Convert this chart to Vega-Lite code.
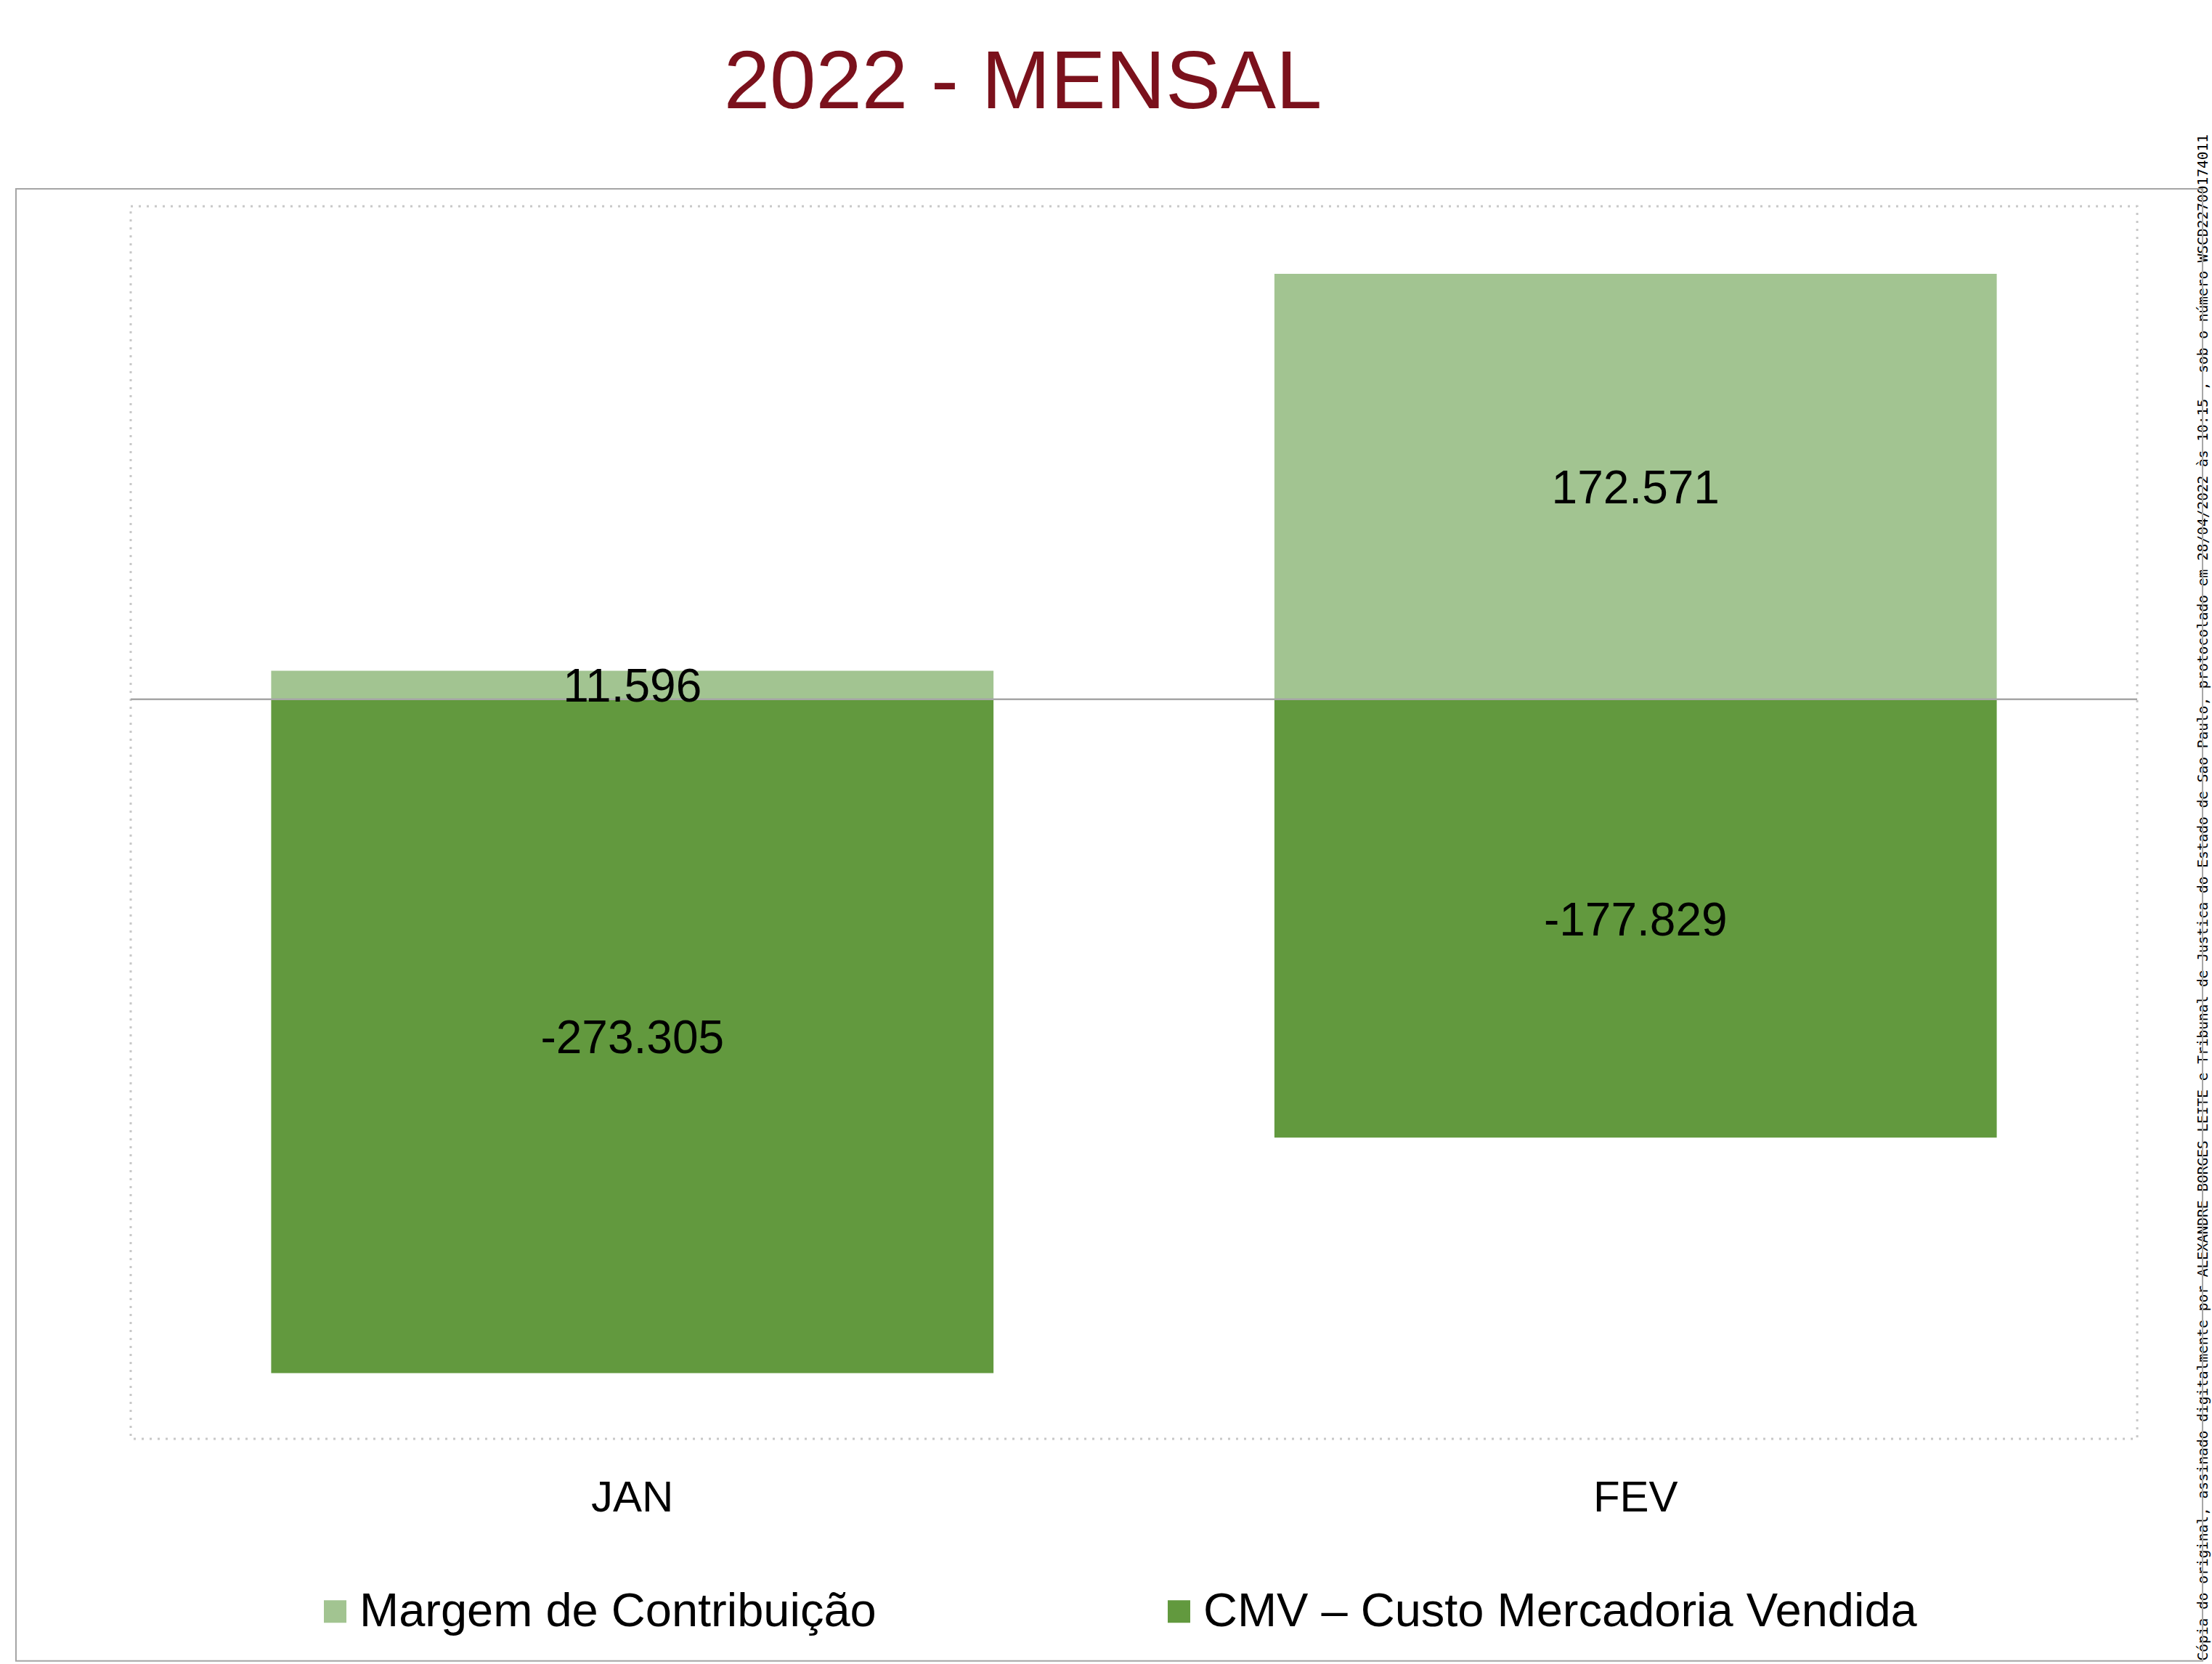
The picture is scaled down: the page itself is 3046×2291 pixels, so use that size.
{
  "$schema": "https://vega.github.io/schema/vega-lite/v6.json",
  "autosize": {"type": "none"},
  "width": 2763,
  "height": 1697,
  "padding": {"left": 180, "top": 284, "right": 103, "bottom": 310},
  "background": "white",
  "title": {
    "text": "2022 - MENSAL",
    "font": "Liberation Sans",
    "fontSize": 114,
    "fontWeight": "normal",
    "color": "#7b111c",
    "anchor": "middle",
    "frame": "group",
    "dx": -153,
    "offset": 12
  },
  "data": {
    "values": [
      {"month": "JAN", "series": "Margem de Contribuição", "value": 11596},
      {"month": "JAN", "series": "CMV – Custo Mercadoria Vendida", "value": -273305},
      {"month": "FEV", "series": "Margem de Contribuição", "value": 172571},
      {"month": "FEV", "series": "CMV – Custo Mercadoria Vendida", "value": -177829}
    ]
  },
  "layer": [
    {
      "mark": {"type": "bar"},
      "encoding": {
        "x": {
          "field": "month", "type": "nominal",
          "sort": ["JAN", "FEV"],
          "scale": {"domain": ["JAN", "FEV"], "paddingInner": 0.28, "paddingOuter": 0.14},
          "axis": {
            "title": null, "domain": false, "ticks": false, "grid": false,
            "labelAngle": 0, "labelFont": "Liberation Sans", "labelFontSize": 60,
            "labelColor": "#000000", "labelPadding": 52, "labelBaseline": "top"
          }
        },
        "y": {
          "field": "value", "type": "quantitative", "stack": "zero",
          "scale": {"domain": [-300000, 200000], "nice": false, "zero": false},
          "axis": {
            "orient": "right", "labels": false, "ticks": false, "domain": false, "grid": false,
            "title": "Cópia do original, assinado digitalmente por ALEXANDRE BORGES LEITE e Tribunal de Justica do Estado de Sao Paulo, protocolado em 28/04/2022 às 10:15 , sob o número WSCD22700174011",
            "titleAngle": 270, "titleX": 96, "titleY": 2002,
            "titleAlign": "left", "titleBaseline": "alphabetic",
            "titleFont": "DejaVu Sans Mono", "titleFontSize": 19.5, "titleFontWeight": "normal",
            "titleColor": "#000000", "titleLimit": 4000
          }
        },
        "color": {
          "field": "series", "type": "nominal",
          "scale": {
            "domain": ["Margem de Contribuição", "CMV – Custo Mercadoria Vendida"],
            "range": ["#a2c491", "#62993e"]
          },
          "legend": {
            "orient": "none", "legendX": 249, "legendY": 1902,
            "direction": "horizontal", "title": null,
            "symbolType": "square", "symbolSize": 961, "symbolStrokeWidth": 0,
            "symbolOpacity": 1,
            "labelFont": "Liberation Sans", "labelFontSize": 65, "labelColor": "#000000",
            "labelOffset": 1, "columnPadding": 384, "labelLimit": 3000
          }
        }
      }
    },
    {
      "data": {"values": [{}]},
      "mark": {"type": "rule", "color": "#a6a6a6", "strokeWidth": 2.5},
      "encoding": {
        "y": {"datum": 0}
      }
    },
    {
      "mark": {"type": "text", "font": "Liberation Sans", "fontSize": 64, "color": "#000000", "baseline": "middle", "align": "center", "dy": 4},
      "encoding": {
        "x": {"field": "month", "type": "nominal"},
        "y": {"field": "value", "type": "quantitative", "stack": "zero", "bandPosition": 0.5},
        "detail": {"field": "series"},
        "text": {"field": "value", "type": "quantitative", "format": ",d"}
      }
    },
    {
      "data": {"values": [{}]},
      "mark": {"type": "rect", "fill": null, "stroke": "#a5a5a5", "strokeWidth": 2},
      "encoding": {
        "x": {"datum": "JAN", "bandPosition": -0.3533},
        "x2": {"datum": "FEV", "bandPosition": 1.2849},
        "y": {"datum": 207100},
        "y2": {"datum": -390100}
      }
    }
  ],
  "config": {
    "locale": {
      "number": {"decimal": ",", "thousands": ".", "grouping": [3], "currency": ["R$", ""], "minus": "-"}
    },
    "view": {"stroke": "#c8c8c8", "strokeWidth": 3, "strokeDash": [3, 8]},
    "axis": {"grid": false}
  }
}
